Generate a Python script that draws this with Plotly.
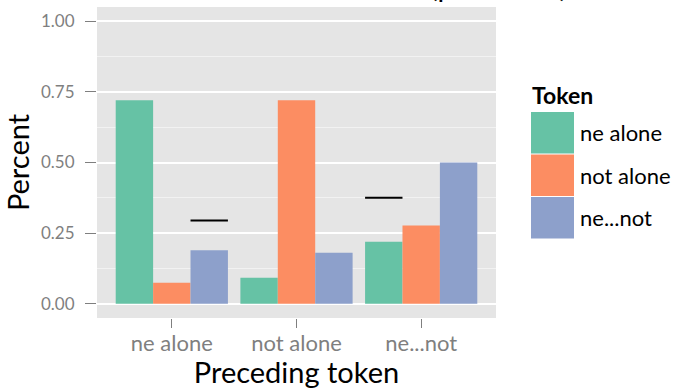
import plotly.graph_objects as go

# ---- data ----
categories = ["ne alone", "not alone", "ne...not"]
series_names = ["ne alone", "not alone", "ne...not"]
ne_alone = [0.72, 0.092, 0.22]
not_alone = [0.075, 0.72, 0.277]
ne_not = [0.19, 0.181, 0.50]
# reference segments (group, series, value)
seg_group = ["ne alone", "ne...not"]
seg_series = ["ne...not", "ne alone"]
seg_value = [0.295, 0.375]
y_ticks = [0.0, 0.25, 0.5, 0.75, 1.0]
y_tick_labels = ["0.00", "0.25", "0.50", "0.75", "1.00"]

colors = ["#66c2a5", "#fc8d62", "#8da0cb"]
FONT = "Lato"
W, H = 679, 389
L, R, T, B = 97, 183, 7, 71
PW, PH = W - L - R, H - T - B

bar_w = 0.3
fig = go.Figure()
all_vals = [ne_alone, not_alone, ne_not]
for si, (name, vals) in enumerate(zip(series_names, all_vals)):
    xs = [ci + 1 + (si - 1) * bar_w for ci in range(len(categories))]
    fig.add_trace(go.Bar(x=xs, y=vals, width=bar_w, name=name,
                         marker=dict(color=colors[si], line=dict(width=0)),
                         showlegend=False))

for g, s, v in zip(seg_group, seg_series, seg_value):
    cx = categories.index(g) + 1 + (series_names.index(s) - 1) * bar_w
    fig.add_trace(go.Scatter(x=[cx - bar_w / 2, cx + bar_w / 2], y=[v, v],
                             mode="lines", line=dict(color="black", width=2),
                             showlegend=False, hoverinfo="skip"))

def px(x):
    return (x - L) / PW

def py(y):
    return (H - B - y) / PH

shapes = []
annotations = []
# manual ggplot-style legend
annotations.append(dict(text="<b>Token</b>", x=px(530), y=py(95), xref="paper", yref="paper",
                        xanchor="left", yanchor="middle", showarrow=False,
                        font=dict(family=FONT, size=23, color="black")))
key_top = 111.5
key_h = 42.5
for i, name in enumerate(series_names):
    y0 = key_top + i * key_h
    shapes.append(dict(type="rect", xref="paper", yref="paper",
                       x0=px(531), x1=px(574), y0=py(y0 + key_h - 0.5), y1=py(y0 + 0.5),
                       fillcolor=colors[i], line=dict(width=0), layer="above"))
    annotations.append(dict(text=name, x=px(578), y=py(y0 + key_h / 2), xref="paper", yref="paper",
                            xanchor="left", yanchor="middle", showarrow=False,
                            font=dict(family=FONT, size=22, color="black")))
# cropped title (only its descenders are visible at the top edge)
annotations.append(dict(text="(p < 0.001)", x=px(498), y=py(5), xref="paper", yref="paper",
                        xanchor="center", yanchor="bottom", showarrow=False,
                        font=dict(family=FONT, size=29, color="black")))

fig.update_layout(
    template="none",
    width=W, height=H,
    margin=dict(l=L, r=R, t=T, b=B, pad=0),
    paper_bgcolor="white", plot_bgcolor="#e5e5e5",
    barmode="overlay",
    font=dict(family=FONT),
    shapes=shapes, annotations=annotations,
    xaxis=dict(range=[0.4, 3.6], tickvals=[1, 2, 3], ticktext=categories,
               automargin=False, showline=False,
               showgrid=False, zeroline=False, ticks="outside", ticklen=9,
               tickcolor="#7f7f7f", tickwidth=1, ticklabelstandoff=-3,
               tickfont=dict(family=FONT, size=22, color="#7f7f7f"),
               title=dict(text="Preceding token", font=dict(family=FONT, size=29, color="black"),
                          standoff=4)),
    yaxis=dict(range=[-0.05, 1.05], tickvals=y_ticks, ticktext=y_tick_labels,
               automargin=False, showline=False,
               showgrid=True, gridcolor="white", gridwidth=1.5, zeroline=False,
               minor=dict(showgrid=True, gridcolor="#f2f2f2", gridwidth=0.8, dtick=0.125, tick0=0.125),
               ticks="outside", ticklen=11, tickcolor="#7f7f7f", tickwidth=1,
               ticklabelstandoff=7,
               tickfont=dict(family=FONT, size=17, color="#7f7f7f"),
               title=dict(text="Percent", font=dict(family=FONT, size=29, color="black"),
                          standoff=12)),
)

fig.write_html("out.html", config={"displayModeBar": False},
               post_script="document.body.style.margin='0';document.body.style.overflow='hidden';")
